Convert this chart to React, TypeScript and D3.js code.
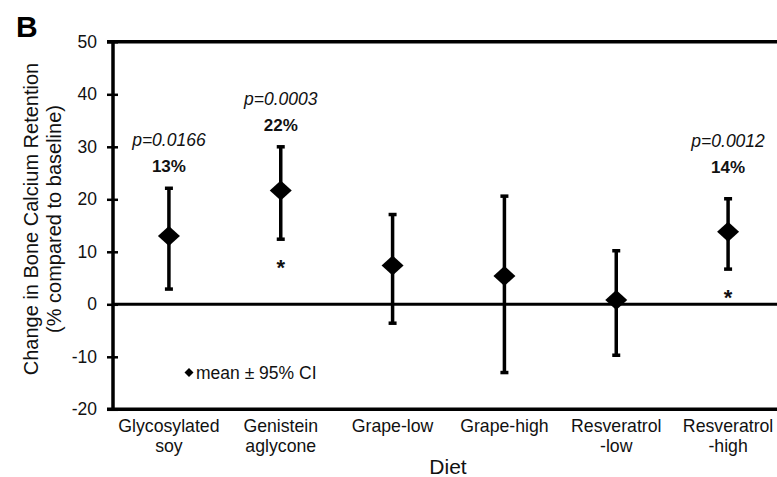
import React, { useEffect, useRef } from 'react'
import * as d3 from 'd3'

// diet groups (label lines)
const categories = [
  ['Glycosylated', 'soy'],
  ['Genistein', 'aglycone'],
  ['Grape-low'],
  ['Grape-high'],
  ['Resveratrol', '-low'],
  ['Resveratrol', '-high'],
]
const means = [13.0, 21.7, 7.4, 5.4, 0.8, 13.8]
const upperCI = [22.1, 30.0, 17.1, 20.6, 10.2, 20.1]
const lowerCI = [2.9, 12.4, -3.6, -13.0, -9.7, 6.7]
const pValues = ['p=0.0166', 'p=0.0003', '', '', '', 'p=0.0012']
const pctLabels = ['13%', '22%', '', '', '', '14%']
const significant = [false, true, false, false, false, true]
const yTicks = [-20, -10, 0, 10, 20, 30, 40, 50]

const font = '"Liberation Sans", Arial, sans-serif'

export default function App() {
  const ref = useRef<SVGSVGElement>(null)

  useEffect(() => {
    const svg = d3.select(ref.current)
    svg.selectAll('*').remove()

    const keys = categories.map(c => c.join(' '))
    const x = d3.scaleBand().domain(keys).range([113, 784])
    const y = d3.scaleLinear().domain([-20, 50]).range([409.3, 41.8])
    const cx = (i: number) => (x(keys[i]) as number) + x.bandwidth() / 2

    // y axis ticks + labels
    const yAxis = svg.append('g')
      .attr('transform', 'translate(113,0)')
      .call(d3.axisLeft(y).tickValues(yTicks).tickSize(6).tickPadding(10).tickFormat(d => String(d)))
    yAxis.select('.domain').remove()
    yAxis.selectAll('.tick line').attr('x1', 5).attr('stroke', '#000').attr('stroke-width', 2.5)
    yAxis.selectAll('.tick text')
      .attr('font-size', 17.5)
      .attr('font-family', font)
      .attr('fill', '#111')

    // frame lines
    const x0 = 113, x1 = 784
    svg.append('line').attr('x1', x0).attr('x2', x0)
      .attr('y1', y(50) - 1.75).attr('y2', y(-20) + 1.75)
      .attr('stroke', '#000').attr('stroke-width', 3.5)
    svg.append('line').attr('x1', x0 - 6).attr('x2', x1)
      .attr('y1', y(50)).attr('y2', y(50))
      .attr('stroke', '#000').attr('stroke-width', 3.5)
    svg.append('line').attr('x1', x0 - 6).attr('x2', x1)
      .attr('y1', y(-20)).attr('y2', y(-20))
      .attr('stroke', '#000').attr('stroke-width', 3.5)
    svg.append('line').attr('x1', x0).attr('x2', x1)
      .attr('y1', y(0)).attr('y2', y(0))
      .attr('stroke', '#000').attr('stroke-width', 3)

    // error bars
    const bars = svg.selectAll('.bar')
      .data(means)
      .enter()
      .append('g')
      .attr('class', 'bar')

    bars.append('line')
      .attr('x1', (d, i) => cx(i)).attr('x2', (d, i) => cx(i))
      .attr('y1', (d, i) => y(upperCI[i])).attr('y2', (d, i) => y(lowerCI[i]))
      .attr('stroke', '#000').attr('stroke-width', 3.5)
    bars.append('line')
      .attr('x1', (d, i) => cx(i) - 4).attr('x2', (d, i) => cx(i) + 4)
      .attr('y1', (d, i) => y(upperCI[i])).attr('y2', (d, i) => y(upperCI[i]))
      .attr('stroke', '#000').attr('stroke-width', 3.5)
    bars.append('line')
      .attr('x1', (d, i) => cx(i) - 4).attr('x2', (d, i) => cx(i) + 4)
      .attr('y1', (d, i) => y(lowerCI[i])).attr('y2', (d, i) => y(lowerCI[i]))
      .attr('stroke', '#000').attr('stroke-width', 3.5)
    bars.append('path')
      .attr('d', (d, i) => {
        const px = cx(i), py = y(d)
        return `M${px},${py - 10}L${px + 11},${py}L${px},${py + 10}L${px - 11},${py}Z`
      })
      .attr('fill', '#000')

    // annotations
    means.forEach((d, i) => {
      if (pctLabels[i]) {
        const ly = y(Math.max(upperCI[i], 22)) - 16
        svg.append('text')
          .attr('x', cx(i)).attr('y', ly)
          .attr('text-anchor', 'middle')
          .attr('font-family', font).attr('font-size', 17).attr('font-weight', 'bold')
          .attr('fill', '#111')
          .text(pctLabels[i])
        svg.append('text')
          .attr('x', cx(i)).attr('y', ly - 26)
          .attr('text-anchor', 'middle')
          .attr('font-family', font).attr('font-size', 17.5).attr('font-style', 'italic')
          .attr('fill', '#111')
          .text(pValues[i])
      }
      if (significant[i]) {
        svg.append('text')
          .attr('x', cx(i)).attr('y', y(lowerCI[i]) + 36)
          .attr('text-anchor', 'middle')
          .attr('font-family', font).attr('font-size', 22).attr('font-weight', 'bold')
          .attr('fill', '#111')
          .text('*')
      }
    })

    // category labels
    categories.forEach((lines, i) => {
      const t = svg.append('text')
        .attr('text-anchor', 'middle')
        .attr('font-family', font).attr('font-size', 17.7)
        .attr('fill', '#111')
      lines.forEach((s, j) => {
        t.append('tspan').attr('x', cx(i)).attr('y', 432 + j * 20).text(s)
      })
    })

    // legend
    const ly = y(-13)
    svg.append('path')
      .attr('d', `M189,${ly - 4.5}L193.5,${ly}L189,${ly + 4.5}L184.5,${ly}Z`)
      .attr('fill', '#000')
    svg.append('text')
      .attr('x', 196).attr('y', ly + 6)
      .attr('font-family', font).attr('font-size', 17.5)
      .attr('fill', '#111')
      .text('mean ± 95% CI')

    // axis titles
    svg.append('text')
      .attr('x', 448).attr('y', 474)
      .attr('text-anchor', 'middle')
      .attr('font-family', font).attr('font-size', 21)
      .attr('fill', '#111')
      .text('Diet')

    const yt = svg.append('text')
      .attr('transform', 'rotate(-90)')
      .attr('text-anchor', 'middle')
      .attr('font-family', font).attr('font-size', 20)
      .attr('fill', '#111')
    yt.append('tspan').attr('x', -219).attr('y', 38).text('Change in Bone Calcium Retention')
    yt.append('tspan').attr('x', -219).attr('y', 61).text('(% compared to baseline)')

    svg.append('text')
      .attr('x', 16).attr('y', 37)
      .attr('font-family', font).attr('font-size', 30).attr('font-weight', 'bold')
      .attr('fill', '#000')
      .text('B')
  }, [])

  return (
    <svg ref={ref} width={777} height={477}
      style={{ position: 'absolute', left: 0, top: 0, background: '#fff' }} />
  )
}
